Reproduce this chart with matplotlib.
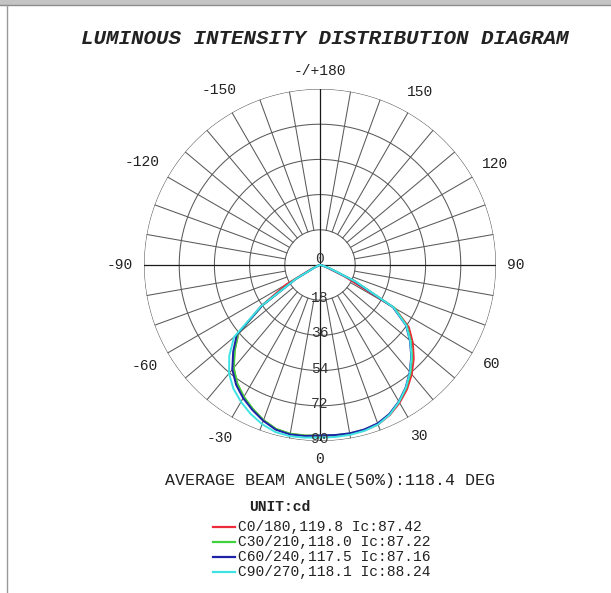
import numpy as np
import matplotlib
matplotlib.use("Agg")
import matplotlib.pyplot as plt
from matplotlib.lines import Line2D
from matplotlib.patches import Rectangle

# ---- data -----------------------------------------------------------------
# gamma angle (deg); negative side is the opposite C-plane (C180, C210, ...)
gamma = [-90, -85, -80, -75, -70, -65, -60, -55, -50, -45, -40, -35, -30,
         -25, -20, -15, -10, -5, 0, 5, 10, 15, 20, 25, 30, 35, 40, 45,
         50, 55, 60, 65, 70, 75, 80, 85, 90]

c0_180 = [0.0, 0.1, 0.2, 0.6, 1.5, 5.0, 20.0, 37.0, 54.4, 61.8, 68.8, 74.0,
          78.0, 81.4, 84.5, 86.9, 87.7, 87.6, 87.42, 87.6, 87.8, 87.6, 86.8,
          84.6, 81.4, 77.6, 73.0, 67.8, 62.0, 55.5, 44.0, 14.0, 4.0, 1.5,
          0.7, 0.3, 0.0]
c30_210 = [0.0, 0.1, 0.2, 0.5, 1.2, 3.5, 15.0, 36.0, 54.6, 61.6, 68.6, 73.8,
           77.8, 81.2, 84.4, 86.8, 87.6, 87.5, 87.22, 87.4, 87.5, 87.3, 86.4,
           84.2, 80.8, 76.8, 72.0, 66.6, 60.6, 54.2, 44.0, 20.0, 6.0, 2.0,
           0.8, 0.3, 0.0]
c60_240 = [0.0, 0.1, 0.2, 0.5, 1.0, 3.0, 14.0, 36.0, 55.6, 62.8, 69.8, 74.8,
           78.6, 81.8, 84.8, 87.2, 88.0, 87.8, 87.16, 87.3, 87.4, 87.1, 86.2,
           84.0, 80.6, 76.4, 71.4, 66.0, 60.0, 53.6, 43.0, 19.0, 5.5, 2.0,
           0.8, 0.3, 0.0]
c90_270 = [0.0, 0.1, 0.2, 0.5, 1.0, 3.0, 14.0, 37.0, 57.4, 65.6, 72.4, 77.2,
           80.8, 84.0, 86.6, 88.4, 88.9, 88.6, 88.24, 88.3, 88.2, 87.8, 86.8,
           84.4, 80.8, 76.6, 71.6, 66.2, 60.2, 53.8, 43.5, 20.0, 6.0, 2.0,
           0.8, 0.3, 0.0]

series_labels = ["C0/180,119.8 Ic:87.42", "C30/210,118.0 Ic:87.22",
                 "C60/240,117.5 Ic:87.16", "C90/270,118.1 Ic:88.24"]
series_colors = ["#ec2b3b", "#3fd23f", "#1e22a6", "#3fe3e3"]

ring_values = [18, 36, 54, 72, 90]
angle_ticks = [0, 30, 60, 90, 120, 150, 180, -150, -120, -90, -60, -30]
angle_labels = ["0", "30", "60", "90", "120", "150", "-/+180",
                "-150", "-120", "-90", "-60", "-30"]

title = "LUMINOUS INTENSITY DISTRIBUTION DIAGRAM"
beam_text = "AVERAGE BEAM ANGLE(50%):118.4 DEG"
unit_text = "UNIT:cd"

# ---- figure -----------------------------------------------------------------
W, H = 611, 593
MONO = "Liberation Mono"
TXT = "#222222"
GRID = "#5a5a5a"

fig = plt.figure(figsize=(W / 100, H / 100), dpi=100)
fig.patch.set_facecolor("white")


def fx(x):
    return x / W


def fy(y):
    return 1 - y / H


# window-like frame along the top and left edge
fig.add_artist(Rectangle((0, fy(5)), 1, 5 / H, transform=fig.transFigure,
                         facecolor="#c4c4c4", edgecolor="none"))
fig.add_artist(Line2D([0, 1], [fy(5), fy(5)], transform=fig.transFigure,
                      color="#8c8c8c", lw=1.0))
fig.add_artist(Line2D([fx(7), fx(7)], [fy(5), 0], transform=fig.transFigure,
                      color="#9a9a9a", lw=1.0))

cx, cy, R = 320, 265, 176
ax = fig.add_axes([fx(cx - R), (H - cy - R) / H, 2 * R / W, 2 * R / H],
                  projection="polar")
ax.set_theta_zero_location("S")
ax.set_theta_direction(1)
ax.set_rlim(0, 90)
ax.grid(False)
ax.set_xticks([])
ax.set_yticks([])
ax.spines["polar"].set_visible(False)

# concentric rings
th = np.linspace(0, 2 * np.pi, 721)
for r in ring_values:
    ax.plot(th, np.full_like(th, r), color=GRID, lw=0.75, zorder=1)

# radial spokes every 10 degrees (main axes run through the centre)
for a in range(0, 360, 10):
    t = np.radians(a)
    if a % 90 == 0:
        ax.plot([t, t], [0, 90], color="#1a1a1a", lw=0.9, zorder=1)
    else:
        ax.plot([t, t], [ring_values[0], 90], color=GRID, lw=0.75, zorder=1)

# intensity curves
g = np.radians(gamma)
for vals, col in zip([c0_180, c30_210, c60_240, c90_270], series_colors):
    ax.plot(g, vals, color=col, lw=1.4, zorder=3, solid_joinstyle="round")

# ring value labels along the 0 direction
for r in ring_values:
    ax.annotate(str(r), xy=(0, r), xytext=(0, 2), textcoords="offset pixels",
                ha="center", va="center", family=MONO, fontsize=10.5,
                color="#333333", zorder=4)
ax.annotate("0", xy=(0, 0), xytext=(0, 6), textcoords="offset pixels",
            ha="center", va="center", family=MONO, fontsize=10.5,
            color="#333333", zorder=4)

# angle labels around the outer ring
angle_anns = []
for a, s in zip(angle_ticks, angle_labels):
    ann = ax.annotate(s, xy=(np.radians(a), 90), xytext=(0, 0),
                      textcoords="offset pixels", ha="center", va="center",
                      family=MONO, fontsize=10.5, color=TXT,
                      annotation_clip=False)
    angle_anns.append((a, ann))

fig.canvas.draw()
renderer = fig.canvas.get_renderer()
for a, ann in angle_anns:
    bb = ann.get_window_extent(renderer)
    phi = np.radians(a)
    d = 11 + 0.5 * (bb.width * abs(np.sin(phi)) + bb.height * abs(np.cos(phi)))
    ann.xyann = (d * np.sin(phi), -d * np.cos(phi))

# title and captions
fig.text(fx(325), fy(38), title, ha="center", va="center", family=MONO,
         fontsize=15, fontweight="bold", fontstyle="italic", color=TXT)
fig.text(fx(330), fy(480), beam_text, ha="center", va="center", family=MONO,
         fontsize=12, color=TXT)
fig.text(fx(280), fy(507), unit_text, ha="center", va="center", family=MONO,
         fontsize=10.5, fontweight="bold", color=TXT)

# legend
row_y = [527, 542, 557, 572]
for yy, lab, col in zip(row_y, series_labels, series_colors):
    fig.add_artist(Line2D([fx(213), fx(235)], [fy(yy), fy(yy)],
                          transform=fig.transFigure, color=col, lw=1.6))
    fig.text(fx(238), fy(yy), lab, ha="left", va="center", family=MONO,
             fontsize=10.5, color=TXT)

fig.savefig("out.png", dpi=100)
